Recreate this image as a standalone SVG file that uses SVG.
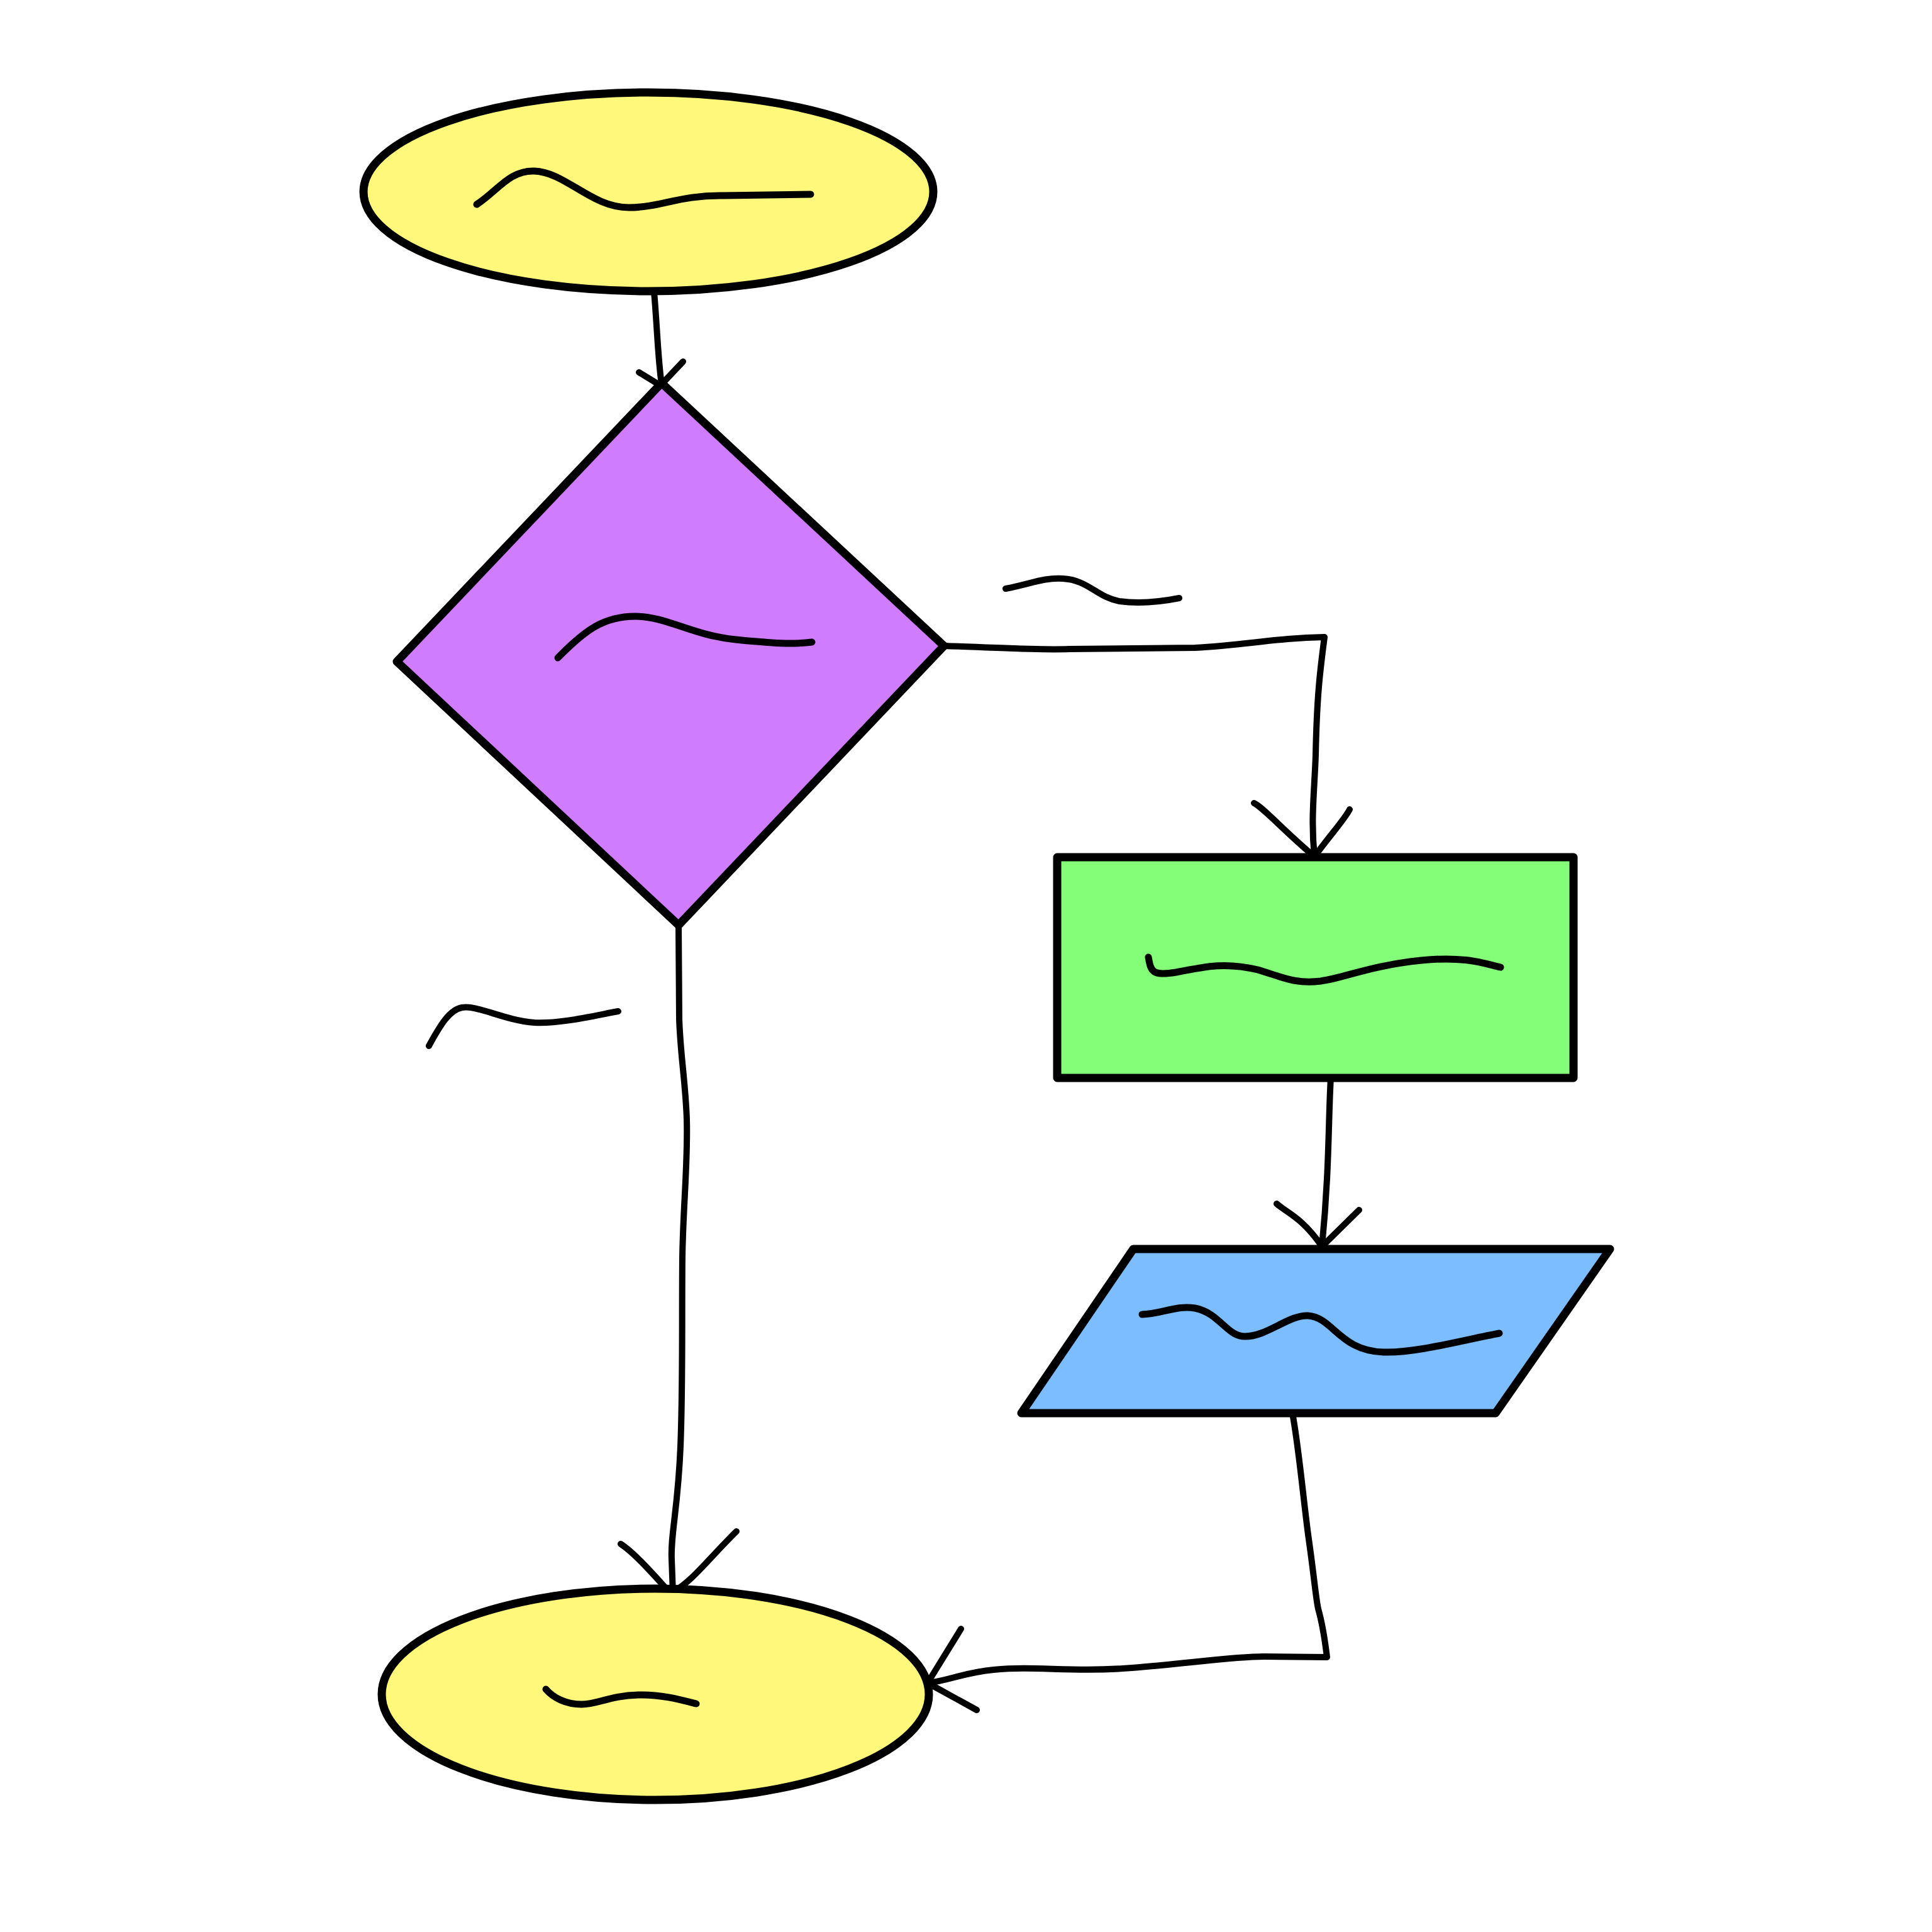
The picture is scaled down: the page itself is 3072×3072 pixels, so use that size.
<svg xmlns="http://www.w3.org/2000/svg" width="3072" height="3072" viewBox="0 0 3072 3072">
<style>
.shape{stroke:#000;stroke-width:13;stroke-linejoin:round}
.sq{fill:none;stroke:#000;stroke-width:11;stroke-linecap:round;stroke-linejoin:round}
.ln{fill:none;stroke:#000;stroke-width:10;stroke-linecap:round;stroke-linejoin:round}
</style>
<rect width="3072" height="3072" fill="#fff"/>
<g id="connectors">
<path class="ln" d="M1040,464 C1045,520 1046,570 1052,611"/>
<path class="ln" d="M1016,592 L1052,614 M1086,575 L1052,611"/>
<path class="ln" d="M1501,1027 C1600,1030 1650,1034 1700,1032 L1900,1030 C1980,1026 2030,1014 2106,1013 C2100,1060 2094,1100 2092,1200 C2090,1260 2084,1300 2090,1362"/>
<path class="ln" d="M1994,1277 C2010,1285 2040,1320 2090,1362 M2146,1287 C2140,1300 2120,1322 2090,1362"/>
<path class="ln" d="M1599,936 C1640,928 1660,918 1690,920 C1730,922 1745,950 1780,956 C1810,960 1840,958 1875,951"/>
<path class="ln" d="M2116,1714 C2112,1780 2114,1860 2102,1982"/>
<path class="ln" d="M2030,1914 C2045,1928 2070,1935 2102,1982 M2161,1924 L2102,1982"/>
<path class="ln" d="M2055,2247 C2065,2300 2072,2380 2080,2440 C2090,2510 2092,2540 2096,2558 C2105,2590 2108,2620 2110,2635 L2010,2634 C1960,2634 1890,2645 1800,2652 C1700,2660 1650,2648 1580,2655 C1530,2660 1510,2672 1475,2676"/>
<path class="ln" d="M1528,2590 L1475,2676 M1553,2719 L1475,2676"/>
<path class="ln" d="M1079,1471 L1080,1620 C1082,1680 1090,1720 1092,1780 C1094,1850 1086,1920 1085,2000 C1084,2100 1086,2200 1082,2300 C1078,2400 1066,2440 1068,2480 L1070,2533"/>
<path class="ln" d="M987,2455 C1010,2470 1040,2505 1066,2533 M1171,2435 C1130,2475 1100,2515 1072,2530"/>
<path class="ln" d="M682,1663 C700,1630 715,1605 735,1602 C760,1598 800,1622 850,1626 C890,1628 940,1616 983,1608"/>
</g>
<g id="start">
<ellipse class="shape" cx="1031" cy="305" rx="453" ry="158" fill="#fff87a"/>
<path class="sq" d="M758,325 C790,305 810,270 850,272 C900,274 940,330 1000,330 C1050,330 1080,310 1150,311 L1289,309"/>
</g>
<g id="decision">
<polygon class="shape" points="1052,609 1501,1027 1079,1471 631,1052" fill="#cf7cfe"/>
<path class="sq" d="M887,1046 C930,1002 960,980 1010,980 C1060,980 1100,1010 1170,1017 C1230,1023 1260,1025 1291,1021"/>
</g>
<g id="process">
<rect class="shape" x="1681" y="1363" width="821" height="351" fill="#84fe78"/>
<path class="sq" d="M1826,1522 C1830,1545 1832,1552 1870,1546 C1920,1536 1950,1530 2000,1542 C2040,1554 2060,1565 2100,1560 C2140,1554 2180,1535 2260,1527 C2330,1520 2360,1532 2386,1538"/>
</g>
<g id="io">
<polygon class="shape" points="1802,1986 2560,1986 2378,2247 1624,2247" fill="#7bbdfe"/>
<path class="sq" d="M1816,2090 C1845,2090 1870,2075 1900,2080 C1940,2088 1950,2125 1980,2125 C2015,2125 2050,2090 2080,2092 C2120,2095 2130,2148 2200,2150 C2250,2152 2330,2130 2384,2120"/>
</g>
<g id="end">
<ellipse class="shape" cx="1042" cy="2694" rx="435" ry="168" fill="#fff87a"/>
<path class="sq" d="M868,2686 C880,2700 900,2710 925,2710 C950,2710 970,2696 1015,2695 C1050,2694 1080,2702 1107,2709"/>
</g>
</svg>
